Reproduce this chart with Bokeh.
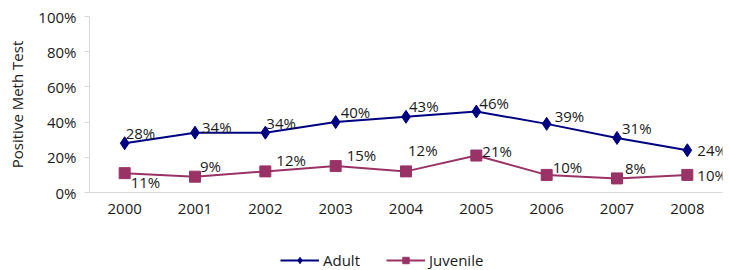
from bokeh.plotting import figure
from bokeh.layouts import column
from bokeh.models import ColumnDataSource, FixedTicker, PrintfTickFormatter, Legend, LegendItem, Range1d, LabelSet
from bokeh.core.properties import value
from bokeh.embed import file_html
from bokeh.resources import INLINE

years = [2000, 2001, 2002, 2003, 2004, 2005, 2006, 2007, 2008]
adult = [28, 34, 34, 40, 43, 46, 39, 31, 24]
juvenile = [11, 9, 12, 15, 12, 21, 10, 8, 10]
y_ticks = [0, 20, 40, 60, 80, 100]
series_names = ["Adult", "Juvenile"]

# label offsets (screen px; dy positive = up), style only
adult_dx = [1, 7, 1, 5, 3, 3, 8, 5, 10]
adult_dy = [10, 6, 10, 10, 11, 9, 8, 10, 0]
juv_dx = [6, 5, 11, 11, 2, 6, 6, 8, 10]
juv_dy = [-9, 11, 11, 11, 21, 5, 8, 10, 0]

FONT = "Open Sans"
ADULT_C = "#000080"
JUV_C = "#993366"
TXT_C = "#1a1a1a"
AX_C = "#d9d9d9"
W = 729

p = figure(width=W, height=250, output_backend="svg", toolbar_location=None,
           x_range=Range1d(1999.5, 2008.5), y_range=Range1d(0, 100),
           min_border_left=89, min_border_right=7, min_border_top=16, min_border_bottom=58)
p.outline_line_color = None
p.xgrid.visible = False
p.ygrid.visible = False

src_a = ColumnDataSource(dict(x=years, y=adult, lab=[f"{v}%" for v in adult], dx=adult_dx, dy=adult_dy))
src_j = ColumnDataSource(dict(x=years, y=juvenile, lab=[f"{v}%" for v in juvenile], dx=juv_dx, dy=juv_dy))

p.line("x", "y", source=src_a, line_color=ADULT_C, line_width=2)
p.scatter("x", "y", source=src_a, marker="diamond", size=13, fill_color=ADULT_C, line_color=ADULT_C)
p.line("x", "y", source=src_j, line_color=JUV_C, line_width=2)
p.scatter("x", "y", source=src_j, marker="square", size=11, fill_color=JUV_C, line_color=JUV_C)

for s in (src_a, src_j):
    p.add_layout(LabelSet(x="x", y="y", text="lab", source=s, x_offset="dx", y_offset="dy",
                          text_font=value(FONT), text_font_size=value("15px"), text_color=value(TXT_C),
                          text_align="left", text_baseline="middle"))

p.xaxis.ticker = FixedTicker(ticks=years)
p.xaxis.major_tick_line_color = None
p.xaxis.minor_tick_line_color = None
p.xaxis.major_tick_out = 0
p.xaxis.major_tick_in = 0
p.xaxis.axis_line_color = AX_C
p.xaxis.major_label_standoff = 11
p.xaxis.major_label_text_font = FONT
p.xaxis.major_label_text_font_size = "15px"
p.xaxis.major_label_text_color = TXT_C

p.yaxis.ticker = FixedTicker(ticks=y_ticks)
p.yaxis.formatter = PrintfTickFormatter(format="%d%%")
p.yaxis.minor_tick_line_color = None
p.yaxis.major_tick_in = 0
p.yaxis.major_tick_out = 5
p.yaxis.major_tick_line_color = AX_C
p.yaxis.axis_line_color = AX_C
p.yaxis.major_label_standoff = 8
p.yaxis.major_label_text_font = FONT
p.yaxis.major_label_text_font_size = "15px"
p.yaxis.major_label_text_color = TXT_C
p.yaxis.axis_label = "Positive Meth Test"
p.yaxis.axis_label_text_font = FONT
p.yaxis.axis_label_text_font_size = "15px"
p.yaxis.axis_label_text_font_style = "normal"
p.yaxis.axis_label_text_color = TXT_C
p.yaxis.axis_label_standoff = 8

# legend strip (series drawn from the same data, outside this strip's visible range)
lg = figure(width=W, height=20, output_backend="svg", toolbar_location=None,
            x_range=Range1d(0, 1), y_range=Range1d(0, 1), min_border=0)
lg.axis.visible = False
lg.grid.visible = False
lg.outline_line_color = None
ra = [lg.line("x", "y", source=src_a, line_color=ADULT_C, line_width=2),
      lg.scatter("x", "y", source=src_a, marker="diamond", size=13, fill_color=ADULT_C, line_color=ADULT_C)]
rj = [lg.line("x", "y", source=src_j, line_color=JUV_C, line_width=2),
      lg.scatter("x", "y", source=src_j, marker="square", size=11, fill_color=JUV_C, line_color=JUV_C)]
legend = Legend(items=[LegendItem(label=series_names[0], renderers=ra),
                       LegendItem(label=series_names[1], renderers=rj)],
                orientation="horizontal", location=(191, 0),
                glyph_width=39, glyph_height=16, label_height=20, label_standoff=4, spacing=26,
                padding=0, margin=0, border_line_color=None, background_fill_alpha=0,
                label_text_font=FONT, label_text_font_size="15px", label_text_color=TXT_C)
lg.add_layout(legend, "center")

layout = column(p, lg, spacing=0)
open("out.html", "w").write(file_html(layout, INLINE))
